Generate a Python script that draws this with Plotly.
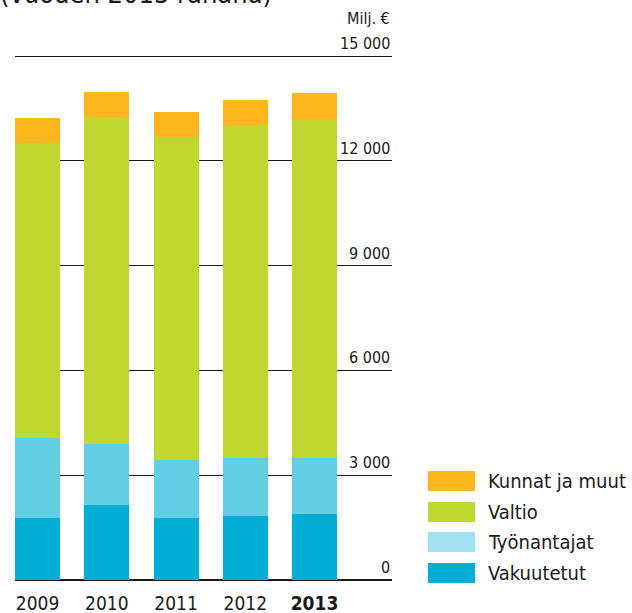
import plotly.graph_objects as go

years = ["2009", "2010", "2011", "2012", "2013"]
year_labels = ["2009", "2010", "2011", "2012", "<b>2013</b>"]
vakuutetut = [1775, 2147, 1775, 1832, 1890]
tyonantajat = [2300, 1756, 1670, 1670, 1612]
valtio = [8435, 9352, 9238, 9523, 9676]
kunnat = [715, 715, 715, 716, 765]
y_ticks = [0, 3000, 6000, 9000, 12000, 15000]

series_names = ["Vakuutetut", "Työnantajat", "Valtio", "Kunnat ja muut"]
series_values = [vakuutetut, tyonantajat, valtio, kunnat]
bar_colors = ["#00ADD5", "#63CDE6", "#C0D72F", "#FBB71C"]
legend_colors = ["#00ADD5", "#A0E0F0", "#C0D72F", "#FBB71C"]

FONT = "DejaVu Sans Condensed, sans-serif"
W, H = 632, 613
ml, mr, mt, mb = 15, 240, 54, 33
pw, ph = W - ml - mr, H - mt - mb
YMAX = 15060

def px_x(p):
    return (p - ml) / pw

def px_y(p):
    return (H - mb - p) / ph

xs = list(range(len(years)))
fig = go.Figure()
for name, vals, col in zip(series_names, series_values, bar_colors):
    fig.add_trace(go.Bar(x=xs, y=vals, name=name, marker=dict(color=col, line=dict(width=0)),
                         width=0.65, showlegend=False, hoverinfo="skip"))

annotations = []
for v in y_ticks:
    annotations.append(dict(x=px_x(392), xref="paper", y=v, yref="y", xanchor="right", yanchor="bottom",
                            text=f"{v:,}".replace(",", " "), showarrow=False, yshift=1,
                            font=dict(family=FONT, size=16, color="#1a1a1a")))
annotations.append(dict(x=px_x(392), xref="paper", y=px_y(18), yref="paper", xanchor="right", yanchor="middle",
                        text="Milj. €", showarrow=False, font=dict(family=FONT, size=16, color="#1a1a1a")))
annotations.append(dict(x=px_x(-2), xref="paper", y=px_y(-7), yref="paper", xanchor="left", yanchor="middle",
                        text="(vuoden 2013 rahana)", showarrow=False, font=dict(family=FONT, size=27, color="#1a1a1a")))

shapes = []
row_tops = [563, 532, 502, 471]
for name, col, top in zip(series_names, legend_colors, row_tops):
    shapes.append(dict(type="rect", xref="paper", yref="paper", x0=px_x(428), x1=px_x(475),
                       y0=px_y(top + 20), y1=px_y(top), fillcolor=col, line=dict(width=0)))
    annotations.append(dict(x=px_x(486), xref="paper", y=px_y(top + 10), yref="paper", xanchor="left",
                            yanchor="middle", text=name, showarrow=False,
                            font=dict(family=FONT, size=20, color="#1a1a1a")))

fig.update_layout(
    width=W, height=H, margin=dict(l=ml, r=mr, t=mt, b=mb, autoexpand=False),
    barmode="stack", bargap=0,
    plot_bgcolor="white", paper_bgcolor="white",
    xaxis=dict(range=[-0.325, 5.119], tickvals=xs, ticktext=year_labels, showgrid=False, zeroline=False,
               showline=False, ticks="", automargin=False, ticklabelstandoff=10,
               tickfont=dict(family=FONT, size=19, color="#1a1a1a")),
    yaxis=dict(range=[0, YMAX], tickvals=y_ticks, showticklabels=False, showgrid=True, automargin=False,
               gridcolor="#1a1a1a", gridwidth=1.4, zeroline=True, zerolinecolor="#1a1a1a",
               zerolinewidth=2, showline=False, ticks=""),
    annotations=annotations, shapes=shapes,
)
fig.write_html("out.html", config={"displayModeBar": False},
               post_script="document.body.style.margin='0';document.body.style.overflow='hidden';")
